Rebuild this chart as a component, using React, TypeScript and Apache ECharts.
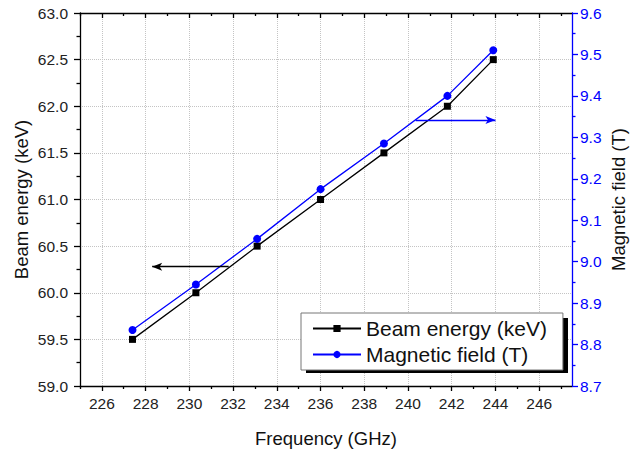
import React, { useEffect, useRef } from 'react';
import * as echarts from 'echarts';

// Data
const frequencyGHz = [227.4, 230.3, 233.1, 236.0, 238.9, 241.8, 243.9];
const beamEnergyKeV = [59.5, 60.0, 60.5, 61.0, 61.5, 62.0, 62.5];
const magneticFieldT = [8.835, 8.945, 9.055, 9.175, 9.285, 9.4, 9.51];

// Tick values
const xMajorTicks = [226, 228, 230, 232, 234, 236, 238, 240, 242, 244, 246];
const xMinorTicks = [225, 227, 229, 231, 233, 235, 237, 239, 241, 243, 245, 247];

// Annotation arrows (in data coordinates)
const leftArrowFrom = [231.8, 60.28];
const leftArrowTo = [228.3, 60.28];
const rightArrowFrom = [240.35, 9.342];
const rightArrowTo = [244.0, 9.342];

const FONT = '"Liberation Sans", Arial, sans-serif';
const BLUE = '#0000ff';

export default function App() {
  const ref = useRef<HTMLDivElement>(null);
  useEffect(() => {
    const chart = echarts.init(ref.current!, null, { renderer: 'svg' });
    const gridLine = { show: true, lineStyle: { color: '#c4c4c4', type: 'dotted', width: 1 } };
    const xBase = { type: 'value', min: 225, max: 247.5, interval: 1 };
    const blackLine = { color: '#000', width: 1.3 };
    const option: any = {
      animation: false,
      backgroundColor: '#fff',
      textStyle: { fontFamily: FONT },
      grid: { left: 80, right: 58, top: 13, bottom: 66, containLabel: false, outerBoundsMode: 'none' },
      xAxis: [
        {
          ...xBase,
          position: 'bottom',
          axisLine: { show: true, onZero: false, lineStyle: blackLine },
          axisTick: { show: true, length: 5, inside: false, lineStyle: blackLine, customValues: xMajorTicks },
          axisLabel: {
            customValues: xMajorTicks,
            formatter: (v: number) => String(v),
            fontSize: 15.5,
            color: '#222',
            margin: 9,
            fontFamily: FONT,
          },
          splitLine: gridLine,
          name: 'Frequency (GHz)',
          nameLocation: 'middle',
          nameGap: 43,
          nameTextStyle: { fontSize: 18.5, color: '#111', fontFamily: FONT },
        },
        {
          ...xBase,
          position: 'bottom',
          axisLine: { show: false, onZero: false },
          axisTick: { show: true, length: 3, inside: false, lineStyle: blackLine, customValues: xMinorTicks },
          axisLabel: { show: false },
          splitLine: { show: false },
        },
        {
          ...xBase,
          position: 'top',
          axisLine: { show: true, onZero: false, lineStyle: blackLine },
          axisTick: { show: true, length: 5, inside: true, lineStyle: blackLine, customValues: xMajorTicks },
          axisLabel: { show: false },
          splitLine: { show: false },
        },
        {
          ...xBase,
          position: 'top',
          axisLine: { show: false, onZero: false },
          axisTick: { show: true, length: 3, inside: true, lineStyle: blackLine, customValues: xMinorTicks },
          axisLabel: { show: false },
          splitLine: { show: false },
        },
      ],
      yAxis: [
        {
          type: 'value',
          position: 'left',
          min: 59,
          max: 63,
          interval: 0.5,
          axisLine: { show: true, onZero: false, lineStyle: blackLine },
          axisTick: { show: true, length: 6, inside: false, lineStyle: blackLine },
          minorTick: { show: true, splitNumber: 2, length: 3.5, lineStyle: blackLine },
          axisLabel: {
            formatter: (v: number) => v.toFixed(1),
            fontSize: 15.5,
            color: '#222',
            margin: 12,
            fontFamily: FONT,
          },
          splitLine: gridLine,
          name: 'Beam energy (keV)',
          nameLocation: 'middle',
          nameGap: 49,
          nameMoveOverlap: false,
          nameTextStyle: { fontSize: 18.5, color: '#111', fontFamily: FONT },
        },
        {
          type: 'value',
          position: 'right',
          min: 8.7,
          max: 9.6,
          interval: 0.1,
          axisLine: { show: true, onZero: false, lineStyle: { color: BLUE, width: 1.3 } },
          axisTick: { show: true, length: 6, inside: false, lineStyle: { color: BLUE, width: 1.3 } },
          minorTick: { show: true, splitNumber: 2, length: 3.5, lineStyle: { color: BLUE, width: 1.3 } },
          axisLabel: {
            formatter: (v: number) => v.toFixed(1),
            fontSize: 15.5,
            color: BLUE,
            margin: 8,
            fontFamily: FONT,
          },
          splitLine: { show: false },
          name: 'Magnetic field (T)',
          nameLocation: 'middle',
          nameGap: 37,
          nameMoveOverlap: false,
          nameTextStyle: { fontSize: 18.5, color: '#111', fontFamily: FONT },
        },
      ],
      legend: {
        orient: 'vertical',
        left: 301,
        top: 313,
        padding: [5, 16, 5, 11],
        itemGap: 5,
        itemWidth: 48,
        itemHeight: 9,
        backgroundColor: '#fff',
        borderColor: '#777',
        borderWidth: 1,
        textStyle: { fontSize: 21, color: '#111', fontFamily: FONT, lineHeight: 20 },
        data: ['Beam energy (keV)', 'Magnetic field (T)'],
      },
      graphic: [
        {
          type: 'rect',
          z: 1,
          shape: { x: 306, y: 318, width: 262, height: 55 },
          style: { fill: '#000' },
        },
      ],
      series: [
        {
          name: 'Beam energy (keV)',
          type: 'line',
          xAxisIndex: 0,
          yAxisIndex: 0,
          data: frequencyGHz.map((f, i) => [f, beamEnergyKeV[i]]),
          symbol: 'rect',
          symbolSize: 7,
          showAllSymbol: true,
          color: '#000',
          lineStyle: { color: '#000', width: 1.3 },
          itemStyle: { color: '#000' },
          markLine: {
            silent: true,
            symbol: ['none', 'arrow'],
            symbolSize: [6, 10],
            label: { show: false },
            lineStyle: { color: '#000', width: 1.3, type: 'solid' },
            data: [[{ coord: leftArrowFrom }, { coord: leftArrowTo }]],
          },
        },
        {
          name: 'Magnetic field (T)',
          type: 'line',
          xAxisIndex: 0,
          yAxisIndex: 1,
          data: frequencyGHz.map((f, i) => [f, magneticFieldT[i]]),
          symbol: 'circle',
          symbolSize: 8,
          showAllSymbol: true,
          color: BLUE,
          lineStyle: { color: BLUE, width: 1.3 },
          itemStyle: { color: BLUE },
          markLine: {
            silent: true,
            symbol: ['none', 'arrow'],
            symbolSize: [6, 10],
            label: { show: false },
            lineStyle: { color: BLUE, width: 1.3, type: 'solid' },
            data: [[{ coord: rightArrowFrom }, { coord: rightArrowTo }]],
          },
        },
      ],
    };
    chart.setOption(option);
    return () => chart.dispose();
  }, []);
  return (
    <div
      ref={ref}
      style={{ position: 'absolute', left: 0, top: 0, width: 630, height: 452, background: '#fff' }}
    />
  );
}
